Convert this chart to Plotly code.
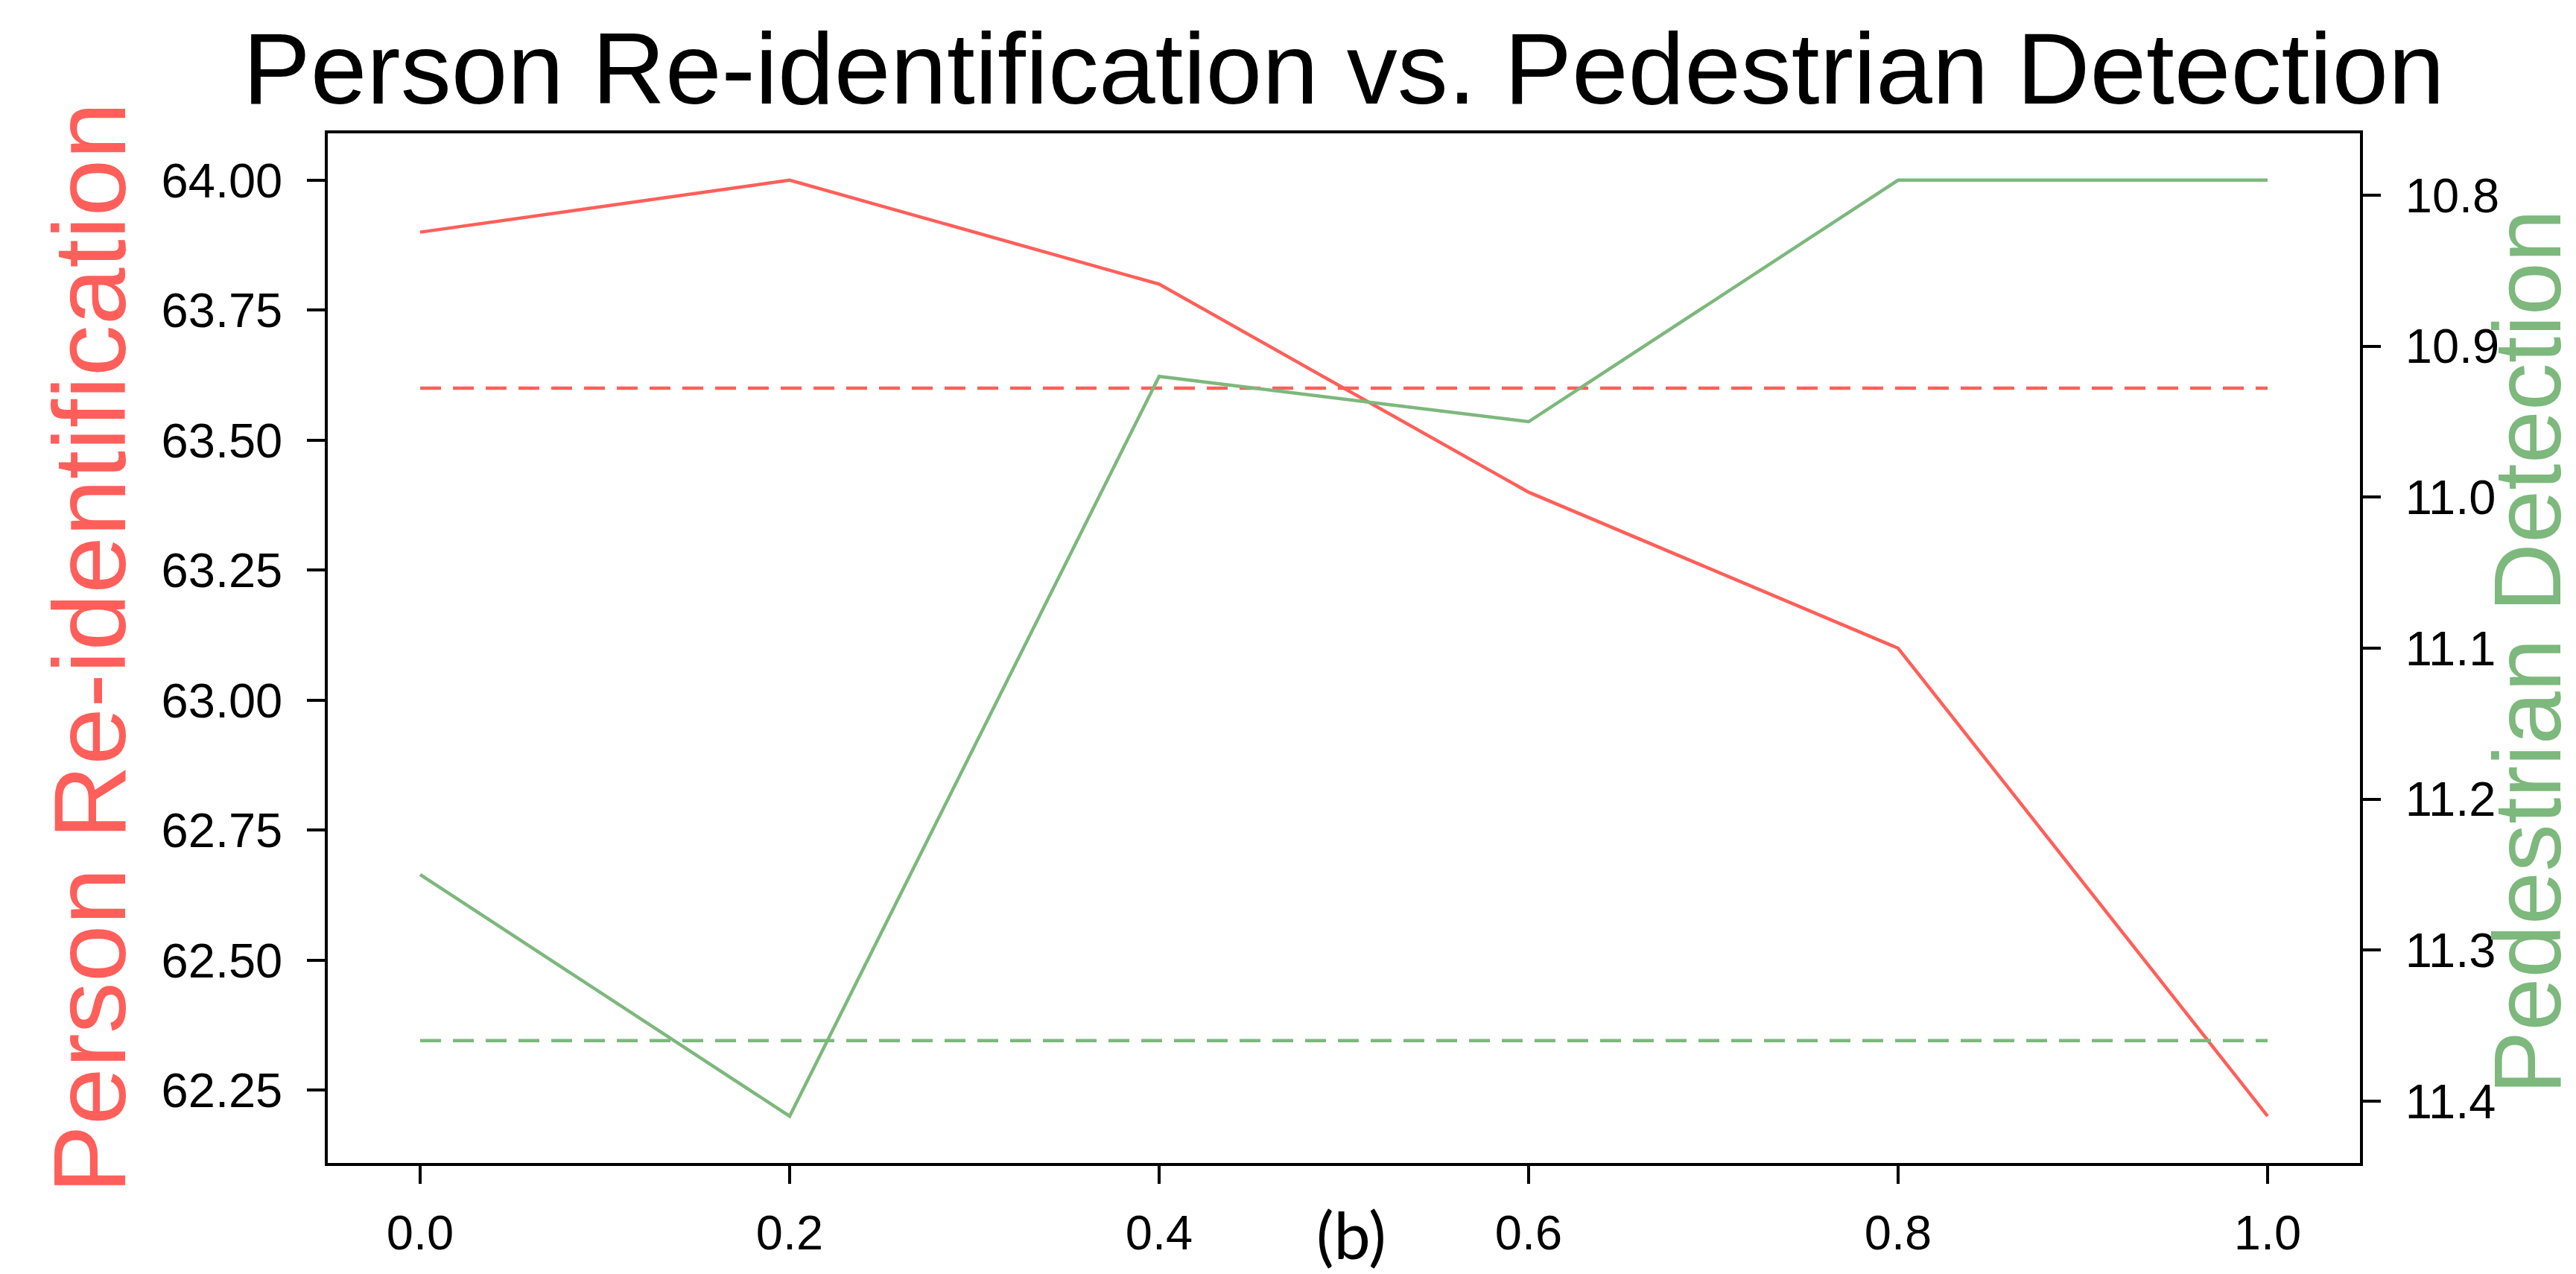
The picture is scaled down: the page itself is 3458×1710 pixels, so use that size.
import plotly.graph_objects as go

# ---- data ----
x_values = [0.0, 0.2, 0.4, 0.6, 0.8, 1.0]
reid_values = [63.9, 64.0, 63.8, 63.4, 63.1, 62.2]
det_values = [11.25, 11.41, 10.92, 10.95, 10.79, 10.79]
reid_baseline = 63.6
det_baseline = 11.36
x_ticks = [0.0, 0.2, 0.4, 0.6, 0.8, 1.0]
left_ticks = [62.25, 62.50, 62.75, 63.00, 63.25, 63.50, 63.75, 64.00]
right_ticks = [10.8, 10.9, 11.0, 11.1, 11.2, 11.3, 11.4]

title_text = "Person Re-identification vs. Pedestrian Detection"
left_label = "Person Re-identification"
right_label = "Pedestrian Detection"
caption = "(b)"

RED = "#ff5f5a"
GREEN = "#7db87d"
FONT = "Liberation Sans, Arial, sans-serif"

W, H = 3458, 1710
L, R, T, B = 440, 290, 179, 149
PW = W - L - R
PH = H - T - B

fig = go.Figure()
fig.add_trace(go.Scatter(x=x_values, y=reid_values, mode="lines",
                         line=dict(color=RED, width=4.5), yaxis="y", showlegend=False))
fig.add_trace(go.Scatter(x=[x_values[0], x_values[-1]], y=[reid_baseline, reid_baseline],
                         mode="lines", line=dict(color=RED, width=4.5, dash="28px,16px"),
                         yaxis="y", showlegend=False))
fig.add_trace(go.Scatter(x=x_values, y=det_values, mode="lines",
                         line=dict(color=GREEN, width=4.5), yaxis="y2", showlegend=False))
fig.add_trace(go.Scatter(x=[x_values[0], x_values[-1]], y=[det_baseline, det_baseline],
                         mode="lines", line=dict(color=GREEN, width=4.5, dash="28px,16px"),
                         yaxis="y2", showlegend=False))

tickfont = dict(family=FONT, size=65, color="black")

fig.update_layout(
    width=W, height=H,
    margin=dict(l=L, r=R, t=T, b=B, pad=0),
    paper_bgcolor="white", plot_bgcolor="white",
    xaxis=dict(range=[-0.05, 1.05], tickvals=x_ticks, tickformat=".1f",
               showgrid=False, zeroline=False, showline=True, linecolor="black",
               linewidth=3.5, mirror=True, ticks="outside", ticklen=24, tickwidth=3.5,
               tickcolor="black", tickfont=tickfont, ticklabelstandoff=10),
    yaxis=dict(range=[62.11, 64.09], tickvals=left_ticks, tickformat=".2f",
               showgrid=False, zeroline=False, showline=True, linecolor="black",
               linewidth=3.5, ticks="outside", ticklen=24, tickwidth=3.5,
               tickcolor="black", tickfont=tickfont, ticklabelstandoff=20),
    yaxis2=dict(range=[11.441, 10.759], tickvals=right_ticks, tickformat=".1f",
                overlaying="y", side="right",
                showgrid=False, zeroline=False, showline=True, linecolor="black",
                linewidth=3.5, ticks="outside", ticklen=24, tickwidth=3.5,
                tickcolor="black", tickfont=tickfont, ticklabelstandoff=20),
)

annotations = [
    dict(text=title_text, xref="paper", yref="paper", x=0.5,
         y=(H - B - 92) / PH, xanchor="center", yanchor="middle", showarrow=False,
         font=dict(family=FONT, size=136, color="black")),
    dict(text=left_label, xref="paper", yref="paper", x=(120 - L) / PW, y=0.5,
         xanchor="center", yanchor="middle", textangle=-90, showarrow=False,
         font=dict(family=FONT, size=138, color=RED)),
    dict(text=right_label, xref="paper", yref="paper", x=(3392 - L) / PW,
         y=(H - B - 875) / PH,
         xanchor="center", yanchor="middle", textangle=-90, showarrow=False,
         font=dict(family=FONT, size=128, color=GREEN)),
    dict(text=caption, xref="paper", yref="paper", x=(1814 - L) / PW,
         y=(H - B - 1656) / PH, xanchor="center", yanchor="middle", showarrow=False,
         font=dict(family="Lato, Carlito, sans-serif", size=88, color="black")),
]
fig.update_layout(annotations=annotations)

fig.write_html("out.html")
